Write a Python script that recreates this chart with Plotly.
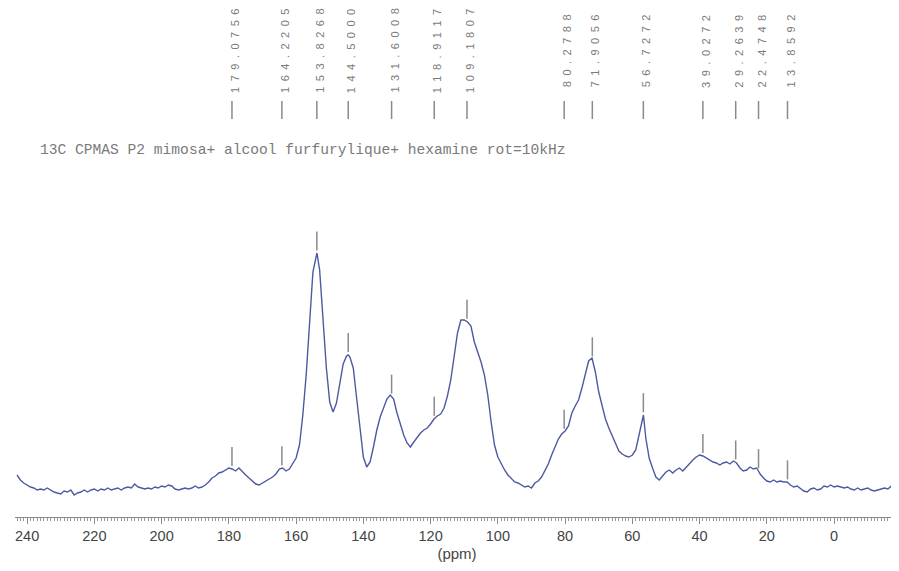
"""
13C CPMAS NMR spectrum with peak picking labels
"""

import numpy as np
import plotly.graph_objects as go

# chemical shift grid (ppm) and intensity (arbitrary units)
shift_ppm = [
    243, 242, 241, 240, 239, 238, 237, 236, 235, 234, 233, 232, 231, 230, 229, 228,
    227, 226, 225, 224, 223, 222, 221, 220, 219, 218, 217, 216, 215, 214, 213, 212,
    211, 210, 209, 208, 207, 206, 205, 204, 203, 202, 201, 200, 199, 198, 197, 196,
    195, 194, 193, 192, 191, 190, 189, 188, 187, 186, 185, 184, 183, 182, 181, 180,
    179, 178, 177, 176, 175, 174, 173, 172, 171, 170, 169, 168, 167, 166, 165, 164,
    163, 162, 161, 160, 159, 158, 157, 156, 155, 154, 153.8, 153, 152, 151, 150, 149,
    148, 147, 146, 145, 144.5, 144, 143, 142, 141, 140, 139, 138, 137, 136, 135, 134,
    133, 132, 131, 130, 129, 128, 127, 126, 125, 124, 123, 122, 121, 120, 119, 118,
    117, 116, 115, 114, 113, 112, 111, 110, 109, 108, 107, 106, 105, 104, 103, 102,
    101, 100, 99, 98, 97, 96, 95, 94, 93, 92, 91, 90, 89, 88, 87, 86,
    85, 84, 83, 82, 81, 80, 79, 78, 77, 76, 75, 74, 73, 72, 71, 70,
    69, 68, 67, 66, 65, 64, 63, 62, 61, 60, 59, 58, 57, 56.7, 56, 55,
    54, 53, 52, 51, 50, 49, 48, 47, 46, 45, 44, 43, 42, 41, 40, 39,
    38, 37, 36, 35, 34, 33, 32, 31, 30, 29, 28, 27, 26, 25, 24, 23,
    22, 21, 20, 19, 18, 17, 16, 15, 14, 13, 12, 11, 10, 9, 8, 7,
    6, 5, 4, 3, 2, 1, 0, -1, -2, -3, -4, -5, -6, -7, -8, -9,
    -10, -11, -12, -13, -14, -15, -16, -17, -18, -19,
]
intensity = [
    25, 20, 17, 15, 13, 12, 10, 11, 10, 12, 10, 8, 7, 6, 9, 8,
    10, 5, 7, 8, 10, 8, 10, 11, 9, 11, 10, 12, 10, 11, 12, 10,
    12, 13, 12, 16, 13, 12, 11, 12, 11, 13, 12, 14, 13, 15, 14, 11,
    10, 11, 12, 11, 12, 14, 12, 13, 15, 18, 22, 24, 27, 28, 30, 32,
    31, 29, 32, 28, 25, 22, 19, 16, 15, 17, 19, 21, 23, 26, 31, 32,
    29, 31, 36, 42, 55, 85, 125, 180, 228, 244, 247, 230, 182, 132, 98, 88,
    97, 117, 136, 144, 145, 143, 132, 102, 70, 43, 33, 38, 53, 70, 83, 93,
    101, 105, 101, 87, 75, 65, 57, 53, 58, 63, 67, 70, 72, 76, 81, 84,
    86, 92, 104, 120, 143, 167, 180, 180, 178, 174, 158, 149, 138, 125, 105, 78,
    55, 43, 36, 30, 25, 21, 18, 17, 15, 13, 14, 12, 17, 19, 23, 29,
    36, 45, 54, 61, 66, 69, 74, 87, 94, 100, 112, 127, 139, 142, 128, 108,
    93, 81, 72, 64, 56, 49, 46, 44, 43, 45, 50, 65, 83, 85, 62, 42,
    32, 23, 20, 24, 28, 30, 27, 30, 32, 29, 33, 37, 40, 43, 45, 44,
    42, 40, 38, 37, 35, 37, 38, 36, 39, 37, 32, 29, 30, 33, 31, 32,
    26, 22, 19, 18, 20, 18, 19, 18, 18, 15, 13, 14, 11, 9, 8, 11,
    12, 10, 11, 14, 13, 15, 13, 14, 13, 12, 13, 11, 10, 12, 10, 11,
    12, 10, 9, 10, 11, 12, 11, 14, 15, 16,
]

# picked peaks
peak_ppm = [
    179.0756, 164.2205, 153.8268, 144.5000, 131.6008, 118.9117, 109.1807,
    80.2788, 71.9056, 56.7272, 39.0272, 29.2639, 22.4748, 13.8592,
]
peak_labels = [
    "179.0756", "164.2205", "153.8268", "144.5000", "131.6008", "118.9117",
    "109.1807", "80.2788", "71.9056", "56.7272", "39.0272", "29.2639",
    "22.4748", "13.8592",
]

title_text = "13C CPMAS P2 mimosa+ alcool furfurylique+ hexamine rot=10kHz"

fig = go.Figure()

fig.add_trace(
    go.Scatter(
        x=shift_ppm,
        y=intensity,
        mode="lines",
        line=dict(color="#4d5aa3", width=1.4),
        showlegend=False,
        hoverinfo="skip",
    )
)

# peak height under each marker
xp = np.array(shift_ppm[::-1], dtype=float)
fp = np.array(intensity[::-1], dtype=float)
peak_height = np.interp(peak_ppm, xp, fp)

for ppm, h, lab in zip(peak_ppm, peak_height, peak_labels):
    # small tick above the peak
    fig.add_shape(
        type="line", xref="x", yref="y",
        x0=ppm, x1=ppm, y0=h + 3, y1=h + 22,
        line=dict(color="#8a8a8a", width=1.5),
    )
    # top bar of the peak list
    fig.add_shape(
        type="line", xref="x", yref="y",
        x0=ppm, x1=ppm, y0=381, y1=399,
        line=dict(color="#8a8a8a", width=1.5),
    )
    fig.add_annotation(
        x=ppm, y=449, xref="x", yref="y",
        text="\u2002".join(lab),
        textangle=-90,
        showarrow=False,
        xshift=3,
        font=dict(family="Liberation Sans", size=11, color="#7a7a7a"),
    )

fig.add_annotation(
    x=0.0255, y=350, xref="paper", yref="y",
    xanchor="left", yanchor="middle",
    text=title_text,
    showarrow=False,
    font=dict(family="Liberation Mono", size=14.6, color="#7a7a7a"),
)

# the page body adds an 8 px offset, margins compensate for it
fig.update_layout(
    width=899,
    height=571,
    margin=dict(l=7, r=8, t=0, b=62),
    plot_bgcolor="white",
    paper_bgcolor="white",
    showlegend=False,
)

fig.update_xaxes(
    range=[243.6, -19.3],
    tickmode="linear",
    tick0=0,
    dtick=20,
    ticks="outside",
    ticklen=6,
    tickcolor="#8a8a8a",
    showline=True,
    linecolor="#8a8a8a",
    linewidth=1,
    showgrid=False,
    zeroline=False,
    minor=dict(dtick=1, ticks="outside", ticklen=3, tickcolor="#9a9a9a", showgrid=False),
    tickfont=dict(family="Liberation Sans", size=14.5, color="#444444"),
    title=dict(
        text="(ppm)",
        font=dict(family="Liberation Sans", size=15, color="#444444"),
        standoff=5,
    ),
)

fig.update_yaxes(
    range=[-17, 492],
    visible=False,
    showgrid=False,
    zeroline=False,
)

fig.write_html("out.html")
